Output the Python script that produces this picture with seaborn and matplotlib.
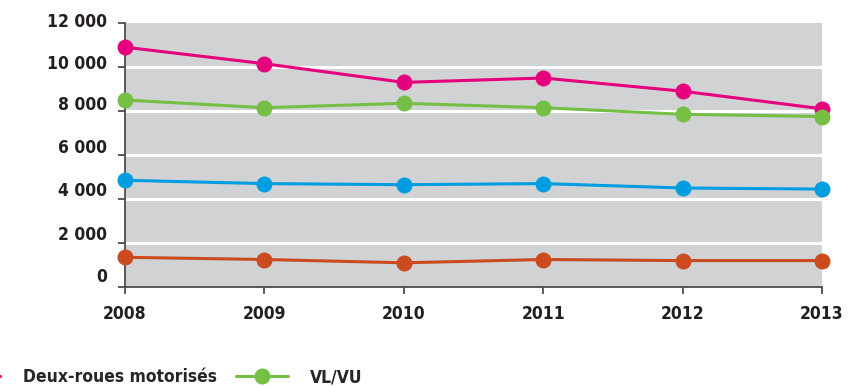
import matplotlib
matplotlib.use("Agg")
import matplotlib.pyplot as plt
import matplotlib.transforms as mtransforms
from matplotlib.lines import Line2D
from matplotlib import font_manager
import seaborn as sns
import pandas as pd

years = [2008, 2009, 2010, 2011, 2012, 2013]
deux_roues = [10900, 10150, 9300, 9500, 8900, 8100]
vl_vu = [8500, 8150, 8350, 8150, 7850, 7750]
serie_bleue = [4850, 4700, 4650, 4700, 4500, 4450]
serie_orange = [1350, 1250, 1100, 1250, 1200, 1200]

series_names = ["Deux-roues motorisés", "VL/VU", "Série 3", "Série 4"]
series_values = [deux_roues, vl_vu, serie_bleue, serie_orange]
colors = ["#e5007e", "#74bf44", "#009ee0", "#cb4a1e"]
yticks = [0, 2000, 4000, 6000, 8000, 10000, 12000]
ytick_labels = ["0", "2 000", "4 000", "6 000", "8 000", "10 000", "12 000"]
legend_names = ["Deux-roues motorisés", "VL/VU"]

rows = []
for name, vals in zip(series_names, series_values):
    for y, v in zip(years, vals):
        rows.append({"year": y, "value": v, "series": name})
df = pd.DataFrame(rows)

sns.set_theme(style="white")
condensed = [f for f in font_manager.fontManager.ttflist
             if f.name == "DejaVu Sans" and f.stretch == "condensed"]
if condensed:
    plt.rcParams["font.family"] = ["DejaVu Sans"]
    plt.rcParams["font.stretch"] = "condensed"
    FS = 12.5
else:
    plt.rcParams["font.family"] = ["Liberation Sans", "DejaVu Sans"]
    FS = 13
plt.rcParams["font.weight"] = "bold"

fig = plt.figure(figsize=(8.54, 3.87), dpi=100)
ax = fig.add_axes([125 / 854, 1 - 287 / 387, (822 - 125) / 854, (287 - 23) / 387])
ax.set_facecolor("#d1d2d4")

sns.lineplot(data=df, x="year", y="value", hue="series", hue_order=series_names,
             palette=colors, marker="o", markersize=11.5, markeredgewidth=0,
             linewidth=2.2, ax=ax, legend=False, clip_on=False, zorder=3)

ax.set_xlim(2008, 2013)
ax.set_ylim(0, 12000)
ax.set_xticks(years)
ax.set_xticklabels([str(y) for y in years], fontsize=FS, fontweight="bold", color="#231f20")
ax.set_yticks(yticks)
ax.set_yticklabels(ytick_labels, fontsize=FS, fontweight="bold", color="#231f20")
ax.set_xlabel("")
ax.set_ylabel("")

for g in yticks[1:-1]:
    ax.axhline(g, color="white", linewidth=2.2, zorder=1)
ax.grid(False)

for s in ["top", "right"]:
    ax.spines[s].set_visible(False)
for s in ["left", "bottom"]:
    ax.spines[s].set_color("#4d4d4f")
    ax.spines[s].set_linewidth(1.3)
ax.tick_params(axis="both", direction="out", length=5, width=1.3, color="#4d4d4f", bottom=True, left=True)
ax.tick_params(axis="x", pad=8)
ax.tick_params(axis="y", pad=8)

label_shift_px = [12, 10, 10, 9, 8, 5, 3]
for lbl, dy in zip(ax.get_yticklabels(), label_shift_px):
    lbl.set_transform(lbl.get_transform() + mtransforms.ScaledTranslation(0, dy / 100, fig.dpi_scale_trans))

handles = [Line2D([], [], color=colors[0], marker="o", markersize=11.5, linewidth=2.2, markeredgewidth=0),
           Line2D([], [], color=colors[1], marker="o", markersize=11.5, linewidth=2.2, markeredgewidth=0)]
fig.legend(handles, legend_names, loc="center left", bbox_to_anchor=(-52 / 854, 1 - 377 / 387),
           ncol=2, frameon=False, handlelength=3.0, handletextpad=1.3,
           columnspacing=1.1, borderpad=0, borderaxespad=0,
           prop={"weight": "bold", "size": FS})

fig.savefig("out.png", dpi=100)
